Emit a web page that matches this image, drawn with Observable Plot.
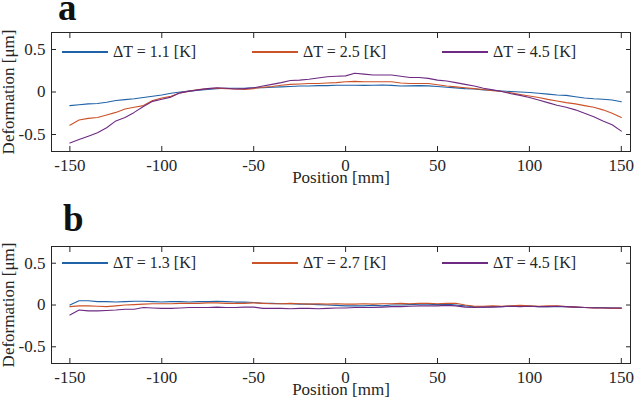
<!DOCTYPE html>
<html>
<head>
<meta charset="utf-8">
<script src="https://cdn.jsdelivr.net/npm/d3@7"></script>
<script src="https://cdn.jsdelivr.net/npm/@observablehq/plot@0.6"></script>
<style>
  body { margin: 0; background: white; }
  #wrap { position: relative; width: 640px; height: 398px; font-family: "Liberation Serif", "Times New Roman", serif; color: #262626; }
  .panel { position: absolute; left: 0; }
  .letter { position: absolute; font-family: "Liberation Serif", "Times New Roman", serif; font-weight: bold; font-size: 37px; line-height: 14px; height: 14px; color: #111; }
  .leg { position: absolute; display: flex; align-items: center; font-size: 16px; white-space: nowrap; }
  .leg .sw { width: 46px; height: 0; border-top: 2px solid; margin-right: 5px; }
</style>
</head>
<body>
<div id="wrap"></div>
<script>
// ---- data ----
const positions = [-150,-145,-140,-135,-130,-125,-120,-115,-110,-105,-100,-95,-90,-85,-80,-75,-70,-65,-60,-55,-50,-45,-40,-35,-30,-25,-20,-15,-10,-5,0,5,10,15,20,25,30,35,40,45,50,55,60,65,70,75,80,85,90,95,100,105,110,115,120,125,130,135,140,145,150];

const a_dT11 = [-0.16,-0.15,-0.14,-0.135,-0.12,-0.10,-0.09,-0.08,-0.065,-0.05,-0.035,-0.015,0.0,0.01,0.02,0.03,0.04,0.045,0.045,0.045,0.05,0.05,0.055,0.06,0.065,0.07,0.07,0.075,0.075,0.08,0.08,0.08,0.078,0.08,0.082,0.078,0.07,0.072,0.075,0.072,0.065,0.055,0.048,0.04,0.035,0.025,0.02,0.012,0.005,0.0,-0.005,-0.015,-0.025,-0.035,-0.04,-0.055,-0.07,-0.08,-0.085,-0.095,-0.115];
const a_dT25 = [-0.39,-0.33,-0.31,-0.30,-0.27,-0.24,-0.20,-0.18,-0.16,-0.10,-0.07,-0.05,-0.01,0.01,0.03,0.04,0.045,0.04,0.035,0.03,0.04,0.055,0.065,0.08,0.09,0.095,0.10,0.10,0.105,0.11,0.12,0.125,0.12,0.12,0.12,0.12,0.105,0.10,0.10,0.10,0.085,0.07,0.06,0.05,0.04,0.03,0.015,0.005,-0.01,-0.03,-0.048,-0.065,-0.087,-0.105,-0.125,-0.14,-0.16,-0.18,-0.21,-0.25,-0.30];
const a_dT45 = [-0.60,-0.56,-0.52,-0.48,-0.42,-0.34,-0.30,-0.24,-0.17,-0.11,-0.085,-0.06,-0.01,0.01,0.025,0.04,0.05,0.045,0.035,0.04,0.05,0.07,0.09,0.11,0.135,0.14,0.15,0.165,0.18,0.185,0.19,0.22,0.21,0.20,0.20,0.20,0.185,0.17,0.17,0.16,0.14,0.13,0.11,0.09,0.07,0.045,0.025,0.005,-0.02,-0.04,-0.065,-0.095,-0.125,-0.155,-0.18,-0.21,-0.25,-0.29,-0.34,-0.385,-0.46];

const b_dT13 = [0.0,0.05,0.05,0.04,0.04,0.035,0.04,0.045,0.045,0.04,0.035,0.04,0.04,0.035,0.04,0.04,0.045,0.04,0.035,0.035,0.03,0.02,0.02,0.015,0.015,0.01,0.01,0.005,0.0,-0.005,-0.01,-0.01,-0.01,-0.005,-0.01,0.0,0.0,0.005,0.01,0.01,0.005,0.01,0.0,-0.01,-0.02,-0.025,-0.02,-0.02,-0.015,-0.01,-0.015,-0.02,-0.02,-0.02,-0.02,-0.025,-0.03,-0.03,-0.03,-0.035,-0.035];
const b_dT27 = [-0.02,-0.01,-0.01,-0.015,-0.02,-0.01,0.0,0.005,0.01,0.015,0.015,0.015,0.02,0.02,0.02,0.025,0.025,0.02,0.02,0.02,0.025,0.02,0.015,0.015,0.02,0.015,0.01,0.015,0.01,0.015,0.01,0.01,0.015,0.01,0.015,0.015,0.02,0.015,0.02,0.02,0.015,0.02,0.02,0.0,-0.015,-0.015,-0.01,-0.015,-0.01,-0.005,-0.01,-0.015,-0.01,-0.01,-0.02,-0.025,-0.03,-0.035,-0.035,-0.04,-0.04];
const b_dT45 = [-0.12,-0.06,-0.07,-0.07,-0.065,-0.06,-0.05,-0.05,-0.03,-0.035,-0.04,-0.04,-0.035,-0.03,-0.03,-0.03,-0.025,-0.03,-0.03,-0.025,-0.025,-0.04,-0.04,-0.04,-0.045,-0.04,-0.04,-0.045,-0.04,-0.035,-0.035,-0.03,-0.03,-0.03,-0.025,-0.02,-0.02,-0.015,-0.01,-0.01,-0.01,-0.005,-0.01,-0.025,-0.03,-0.025,-0.025,-0.02,-0.015,-0.02,-0.015,-0.02,-0.02,-0.015,-0.02,-0.025,-0.03,-0.035,-0.035,-0.035,-0.035];

const labelsA = ["ΔT = 1.1 [K]", "ΔT = 2.5 [K]", "ΔT = 4.5 [K]"];
const labelsB = ["ΔT = 1.3 [K]", "ΔT = 2.7 [K]", "ΔT = 4.5 [K]"];
const xTicks = [-150, -100, -50, 0, 50, 100, 150];
const yTicks = [-0.5, 0, 0.5];
const colors = ["#1f62a8", "#cc5228", "#6e2a82"];

// ---- drawing ----
const wrap = document.getElementById("wrap");
const AX = "#262626";
const FONT = "'Liberation Serif', 'Times New Roman', serif";
const blank = () => "";

function makePanel(series, opts) {
  const marks = [
    ...series.map((vals, i) =>
      Plot.line(positions.map((p, j) => ({p, v: vals[j]})), {x: "p", y: "v", stroke: colors[i], strokeWidth: 1.1})
    ),
    Plot.frame({stroke: AX, strokeWidth: 1}),
    Plot.axisX({anchor: "bottom", ticks: xTicks, tickSize: 0, tickPadding: 7, tickFormat: String, fontSize: 17,
      label: "Position [mm]", labelAnchor: "center", labelArrow: "none", labelOffset: 31}),
    Plot.axisX({anchor: "bottom", ticks: xTicks, tickSize: 5, dy: -5, tickFormat: blank, label: null, stroke: AX}),
    Plot.axisX({anchor: "top", ticks: xTicks, tickSize: 5, dy: 5, tickFormat: blank, label: null, stroke: AX}),
    Plot.axisY({anchor: "left", ticks: yTicks, tickSize: 0, tickPadding: 6, tickFormat: String, fontSize: 17,
      label: "Deformation [μm]", labelAnchor: "center", labelArrow: "none", labelOffset: 50}),
    Plot.axisY({anchor: "left", ticks: yTicks, tickSize: 5, dx: 5, tickFormat: blank, label: null, stroke: AX}),
    Plot.axisY({anchor: "right", ticks: yTicks, tickSize: 5, dx: -5, tickFormat: blank, label: null, stroke: AX})
  ];
  return Plot.plot({
    width: 640,
    height: opts.height,
    marginTop: opts.marginTop,
    marginBottom: opts.marginBottom,
    marginLeft: 51,
    marginRight: 10,
    style: {fontFamily: FONT, fontSize: "16px", color: AX, background: "white"},
    x: {domain: [-160, 155]},
    y: {domain: [-0.7, 0.7]},
    marks
  });
}

function addPanel(top, series, labels, letter, opts, legendY, letterPos) {
  const div = document.createElement("div");
  div.className = "panel";
  div.style.top = top + "px";
  div.appendChild(makePanel(series, opts));
  wrap.appendChild(div);

  const L = document.createElement("div");
  L.className = "letter";
  L.textContent = letter;
  L.style.left = letterPos[0] + "px";
  L.style.top = letterPos[1] + "px";
  wrap.appendChild(L);

  const lefts = [62, 252, 442];
  labels.forEach((t, i) => {
    const g = document.createElement("div");
    g.className = "leg";
    g.style.left = lefts[i] + "px";
    g.style.top = (legendY - 10) + "px";
    g.style.height = "20px";
    const sw = document.createElement("div");
    sw.className = "sw";
    sw.style.borderTopColor = colors[i];
    const tx = document.createElement("span");
    tx.textContent = t;
    g.appendChild(sw);
    g.appendChild(tx);
    wrap.appendChild(g);
  });
}

addPanel(0, [a_dT11, a_dT25, a_dT45], labelsA, "a", {height: 200, marginTop: 32, marginBottom: 49}, 52, [58, 1]);
addPanel(200, [b_dT13, b_dT27, b_dT45], labelsB, "b", {height: 198, marginTop: 46, marginBottom: 35}, 263, [63, 212]);
</script>
</body>
</html>
